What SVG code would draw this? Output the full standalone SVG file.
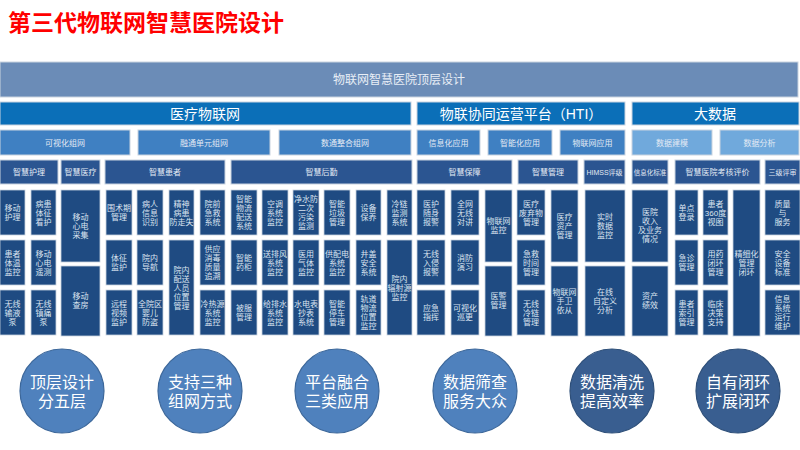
<svg xmlns="http://www.w3.org/2000/svg" width="800" height="450" viewBox="0 0 800 450">
<style>
text{font-family:"Liberation Sans","Noto Sans CJK SC",sans-serif;text-anchor:middle}
.title{font-size:23px;font-weight:bold;fill:#ff0000;text-anchor:start}
.top{fill:#6b8cb7;stroke:#c9d3df;stroke-width:1}
.l2{fill:#0b6fb8;stroke:#c9d3df;stroke-width:1}
.l3{fill:#3f80c2;stroke:#c9d3df;stroke-width:1}
.l3b{fill:#70a9dc;stroke:#c9d3df;stroke-width:1}
.hd{fill:#2b5591;stroke:#c9d3df;stroke-width:1}
.c{fill:#1f4b82;stroke:#c9d3df;stroke-width:0.8}
.t12{font-size:12px;fill:#e8eef6}
.t14{font-size:14px;fill:#ffffff}
.t8{font-size:8px;fill:#e3eaf4}
.t7{font-size:7px;fill:#e3eaf4}
.t6{font-size:6.5px;fill:#e3eaf4}
.tc{font-size:8px;fill:#dbe4f0}
.cl{fill:#4f81bd;stroke:#3c679a;stroke-width:1.2}
.cd{fill:#395e90;stroke:#2e4f79;stroke-width:1.2}
.ct{font-size:16px;fill:#ffffff}
</style>
<rect width="800" height="450" fill="#ffffff"/>
<text class="title" x="8" y="31">第三代物联网智慧医院设计</text>

<g id="top"><rect class="top" x="0" y="62" width="798" height="35"/><text class="t12" x="399" y="84">物联网智慧医院顶层设计</text></g>

<g id="l2-iot"><rect class="l2" x="0" y="102" width="411" height="23"/><text class="t14" x="205" y="119">医疗物联网</text></g>
<g id="l2-hti"><rect class="l2" x="417" y="102" width="208" height="23"/><text class="t14" x="521" y="119">物联协同运营平台（HTI）</text></g>
<g id="l2-bigdata"><rect class="l2" x="632" y="102" width="167" height="23"/><text class="t14" x="715" y="119">大数据</text></g>

<g id="l3-1"><rect class="l3" x="0" y="130" width="130" height="25"/><text class="t8" x="65" y="145.5">可视化组网</text></g>
<g id="l3-2"><rect class="l3" x="138" y="130" width="132" height="25"/><text class="t8" x="204" y="145.5">融通单元组网</text></g>
<g id="l3-3"><rect class="l3" x="279" y="130" width="132" height="25"/><text class="t8" x="345" y="145.5">数通整合组网</text></g>
<g id="l3-4"><rect class="l3" x="417" y="130" width="63" height="25"/><text class="t8" x="448.5" y="145.5">信息化应用</text></g>
<g id="l3-5"><rect class="l3" x="488" y="130" width="64" height="25"/><text class="t8" x="520" y="145.5">智能化应用</text></g>
<g id="l3-6"><rect class="l3" x="560" y="130" width="65" height="25"/><text class="t8" x="592.5" y="145.5">物联网应用</text></g>
<g id="l3-7"><rect class="l3b" x="632" y="130" width="80" height="25"/><text class="t8" x="672" y="145.5">数据建模</text></g>
<g id="l3-8"><rect class="l3b" x="720" y="130" width="79" height="25"/><text class="t8" x="759.5" y="145.5">数据分析</text></g>

<g id="h1"><rect class="hd" x="0" y="160" width="58" height="24"/><text class="t8" x="29" y="175">智慧护理</text></g>
<g id="h2"><rect class="hd" x="61" y="160" width="39" height="24"/><text class="t8" x="80.5" y="175">智慧医疗</text></g>
<g id="h3"><rect class="hd" x="105" y="160" width="120" height="24"/><text class="t8" x="165" y="175">智慧患者</text></g>
<g id="h4"><rect class="hd" x="231" y="160" width="181" height="24"/><text class="t8" x="321.5" y="175">智慧后勤</text></g>
<g id="h5"><rect class="hd" x="417" y="160" width="95" height="24"/><text class="t8" x="464.5" y="175">智慧保障</text></g>
<g id="h6"><rect class="hd" x="518" y="160" width="60" height="24"/><text class="t8" x="548" y="175">智慧管理</text></g>
<g id="h7"><rect class="hd" x="584" y="160" width="41" height="24"/><text class="t7" x="604.5" y="174.5">HIMSS评级</text></g>
<g id="h8"><rect class="hd" x="632" y="160" width="36" height="24"/><text class="t6" x="650" y="174.5">信息化标准</text></g>
<g id="h9"><rect class="hd" x="675" y="160" width="85" height="24"/><text class="t8" x="717.5" y="175">智慧医院考核评价</text></g>
<g id="h10"><rect class="hd" x="765" y="160" width="35" height="24"/><text class="t7" x="782.5" y="174.5">三级评审</text></g>

<!-- 智慧护理 -->
<g id="n1"><rect class="c" x="0" y="190" width="25" height="45"/><text class="tc" x="12.5" y="211"><tspan x="12.5">移动</tspan><tspan x="12.5" dy="9">护理</tspan></text></g>
<g id="n2"><rect class="c" x="0" y="240" width="25" height="45"/><text class="tc" x="12.5" y="256.5"><tspan x="12.5">患者</tspan><tspan x="12.5" dy="9">体温</tspan><tspan x="12.5" dy="9">监控</tspan></text></g>
<g id="n3"><rect class="c" x="0" y="290" width="25" height="45"/><text class="tc" x="12.5" y="306.5"><tspan x="12.5">无线</tspan><tspan x="12.5" dy="9">输液</tspan><tspan x="12.5" dy="9">泵</tspan></text></g>
<g id="n4"><rect class="c" x="31" y="190" width="25" height="45"/><text class="tc" x="43.5" y="206.5"><tspan x="43.5">病患</tspan><tspan x="43.5" dy="9">体征</tspan><tspan x="43.5" dy="9">看护</tspan></text></g>
<g id="n5"><rect class="c" x="31" y="240" width="25" height="45"/><text class="tc" x="43.5" y="256.5"><tspan x="43.5">移动</tspan><tspan x="43.5" dy="9">心电</tspan><tspan x="43.5" dy="9">遥测</tspan></text></g>
<g id="n6"><rect class="c" x="31" y="290" width="25" height="45"/><text class="tc" x="43.5" y="306.5"><tspan x="43.5">无线</tspan><tspan x="43.5" dy="9">镇痛</tspan><tspan x="43.5" dy="9">泵</tspan></text></g>
<!-- 智慧医疗 -->
<g id="n7"><rect class="c" x="61" y="190" width="39" height="72"/><text class="tc" x="80.5" y="220"><tspan x="80.5">移动</tspan><tspan x="80.5" dy="9">心电</tspan><tspan x="80.5" dy="9">采集</tspan></text></g>
<g id="n8"><rect class="c" x="61" y="266" width="39" height="70"/><text class="tc" x="80.5" y="299"><tspan x="80.5">移动</tspan><tspan x="80.5" dy="9">查房</tspan></text></g>
<!-- 智慧患者 -->
<g id="n9"><rect class="c" x="106" y="190" width="26" height="45"/><text class="tc" x="119" y="211"><tspan x="119">围术期</tspan><tspan x="119" dy="9">管理</tspan></text></g>
<g id="n10"><rect class="c" x="106" y="240" width="26" height="45"/><text class="tc" x="119" y="261"><tspan x="119">体征</tspan><tspan x="119" dy="9">监护</tspan></text></g>
<g id="n11"><rect class="c" x="106" y="290" width="26" height="45"/><text class="tc" x="119" y="306.5"><tspan x="119">远程</tspan><tspan x="119" dy="9">视频</tspan><tspan x="119" dy="9">监护</tspan></text></g>
<g id="n12"><rect class="c" x="137" y="190" width="26" height="45"/><text class="tc" x="150" y="206.5"><tspan x="150">病人</tspan><tspan x="150" dy="9">信息</tspan><tspan x="150" dy="9">识别</tspan></text></g>
<g id="n13"><rect class="c" x="137" y="240" width="26" height="45"/><text class="tc" x="150" y="261"><tspan x="150">院内</tspan><tspan x="150" dy="9">导航</tspan></text></g>
<g id="n14"><rect class="c" x="137" y="290" width="26" height="45"/><text class="tc" x="150" y="306.5"><tspan x="150">全院区</tspan><tspan x="150" dy="9">婴儿</tspan><tspan x="150" dy="9">防盗</tspan></text></g>
<g id="n15"><rect class="c" x="169" y="190" width="25" height="45"/><text class="tc" x="181.5" y="206.5"><tspan x="181.5">精神</tspan><tspan x="181.5" dy="9">病患</tspan><tspan x="181.5" dy="9">防走失</tspan></text></g>
<g id="n16"><rect class="c" x="169" y="240" width="25" height="95"/><text class="tc" x="181.5" y="273"><tspan x="181.5">院内</tspan><tspan x="181.5" dy="9">配送</tspan><tspan x="181.5" dy="9">人员</tspan><tspan x="181.5" dy="9">位置</tspan><tspan x="181.5" dy="9">管理</tspan></text></g>
<g id="n17"><rect class="c" x="200" y="190" width="25" height="45"/><text class="tc" x="212.5" y="206.5"><tspan x="212.5">院前</tspan><tspan x="212.5" dy="9">急救</tspan><tspan x="212.5" dy="9">系统</tspan></text></g>
<g id="n18"><rect class="c" x="200" y="240" width="25" height="45"/><text class="tc" x="212.5" y="252"><tspan x="212.5">供应</tspan><tspan x="212.5" dy="9">消毒</tspan><tspan x="212.5" dy="9">质量</tspan><tspan x="212.5" dy="9">追溯</tspan></text></g>
<g id="n19"><rect class="c" x="200" y="290" width="25" height="45"/><text class="tc" x="212.5" y="306.5"><tspan x="212.5">冷热源</tspan><tspan x="212.5" dy="9">系统</tspan><tspan x="212.5" dy="9">监控</tspan></text></g>
<!-- 智慧后勤 -->
<g id="n20"><rect class="c" x="231" y="190" width="26" height="45"/><text class="tc" x="244" y="202"><tspan x="244">智能</tspan><tspan x="244" dy="9">物流</tspan><tspan x="244" dy="9">配送</tspan><tspan x="244" dy="9">系统</tspan></text></g>
<g id="n21"><rect class="c" x="231" y="240" width="26" height="45"/><text class="tc" x="244" y="261"><tspan x="244">智能</tspan><tspan x="244" dy="9">药柜</tspan></text></g>
<g id="n22"><rect class="c" x="231" y="290" width="26" height="45"/><text class="tc" x="244" y="311"><tspan x="244">被服</tspan><tspan x="244" dy="9">管理</tspan></text></g>
<g id="n23"><rect class="c" x="262" y="190" width="26" height="45"/><text class="tc" x="275" y="206.5"><tspan x="275">空调</tspan><tspan x="275" dy="9">系统</tspan><tspan x="275" dy="9">监控</tspan></text></g>
<g id="n24"><rect class="c" x="262" y="240" width="26" height="45"/><text class="tc" x="275" y="256.5"><tspan x="275">送排风</tspan><tspan x="275" dy="9">系统</tspan><tspan x="275" dy="9">监控</tspan></text></g>
<g id="n25"><rect class="c" x="262" y="290" width="26" height="45"/><text class="tc" x="275" y="306.5"><tspan x="275">给排水</tspan><tspan x="275" dy="9">系统</tspan><tspan x="275" dy="9">监控</tspan></text></g>
<g id="n26"><rect class="c" x="293" y="190" width="26" height="45"/><text class="tc" x="306" y="202"><tspan x="306">净水防</tspan><tspan x="306" dy="9">二次</tspan><tspan x="306" dy="9">污染</tspan><tspan x="306" dy="9">监测</tspan></text></g>
<g id="n27"><rect class="c" x="293" y="240" width="26" height="45"/><text class="tc" x="306" y="256.5"><tspan x="306">医用</tspan><tspan x="306" dy="9">气体</tspan><tspan x="306" dy="9">监控</tspan></text></g>
<g id="n28"><rect class="c" x="293" y="290" width="26" height="45"/><text class="tc" x="306" y="306.5"><tspan x="306">水电表</tspan><tspan x="306" dy="9">抄表</tspan><tspan x="306" dy="9">系统</tspan></text></g>
<g id="n29"><rect class="c" x="324" y="190" width="26" height="45"/><text class="tc" x="337" y="206.5"><tspan x="337">智能</tspan><tspan x="337" dy="9">垃圾</tspan><tspan x="337" dy="9">管理</tspan></text></g>
<g id="n30"><rect class="c" x="324" y="240" width="26" height="45"/><text class="tc" x="337" y="256.5"><tspan x="337">供配电</tspan><tspan x="337" dy="9">系统</tspan><tspan x="337" dy="9">监控</tspan></text></g>
<g id="n31"><rect class="c" x="324" y="290" width="26" height="45"/><text class="tc" x="337" y="306.5"><tspan x="337">智能</tspan><tspan x="337" dy="9">停车</tspan><tspan x="337" dy="9">管理</tspan></text></g>
<g id="n32"><rect class="c" x="356" y="190" width="25" height="45"/><text class="tc" x="368.5" y="211"><tspan x="368.5">设备</tspan><tspan x="368.5" dy="9">保养</tspan></text></g>
<g id="n33"><rect class="c" x="356" y="240" width="25" height="45"/><text class="tc" x="368.5" y="256.5"><tspan x="368.5">井盖</tspan><tspan x="368.5" dy="9">安全</tspan><tspan x="368.5" dy="9">系统</tspan></text></g>
<g id="n34"><rect class="c" x="356" y="290" width="25" height="45"/><text class="tc" x="368.5" y="302"><tspan x="368.5">轨道</tspan><tspan x="368.5" dy="9">物流</tspan><tspan x="368.5" dy="9">位置</tspan><tspan x="368.5" dy="9">监控</tspan></text></g>
<g id="n35"><rect class="c" x="387" y="190" width="25" height="45"/><text class="tc" x="399.5" y="206.5"><tspan x="399.5">冷链</tspan><tspan x="399.5" dy="9">监测</tspan><tspan x="399.5" dy="9">系统</tspan></text></g>
<g id="n36"><rect class="c" x="387" y="240" width="25" height="95"/><text class="tc" x="399.5" y="282"><tspan x="399.5">院内</tspan><tspan x="399.5" dy="9">辐射源</tspan><tspan x="399.5" dy="9">监控</tspan></text></g>
<!-- 智慧保障 -->
<g id="n37"><rect class="c" x="417" y="190" width="28" height="45"/><text class="tc" x="431" y="206.5"><tspan x="431">医护</tspan><tspan x="431" dy="9">随身</tspan><tspan x="431" dy="9">报警</tspan></text></g>
<g id="n38"><rect class="c" x="417" y="240" width="28" height="45"/><text class="tc" x="431" y="256.5"><tspan x="431">无线</tspan><tspan x="431" dy="9">入侵</tspan><tspan x="431" dy="9">报警</tspan></text></g>
<g id="n39"><rect class="c" x="417" y="290" width="28" height="45"/><text class="tc" x="431" y="311"><tspan x="431">应急</tspan><tspan x="431" dy="9">指挥</tspan></text></g>
<g id="n40"><rect class="c" x="451" y="190" width="28" height="45"/><text class="tc" x="465" y="206.5"><tspan x="465">全网</tspan><tspan x="465" dy="9">无线</tspan><tspan x="465" dy="9">对讲</tspan></text></g>
<g id="n41"><rect class="c" x="451" y="240" width="28" height="45"/><text class="tc" x="465" y="261"><tspan x="465">消防</tspan><tspan x="465" dy="9">演习</tspan></text></g>
<g id="n42"><rect class="c" x="451" y="290" width="28" height="45"/><text class="tc" x="465" y="311"><tspan x="465">可视化</tspan><tspan x="465" dy="9">巡更</tspan></text></g>
<g id="n43"><rect class="c" x="485" y="190" width="27" height="72"/><text class="tc" x="498.5" y="224"><tspan x="498.5">物联网</tspan><tspan x="498.5" dy="9">监控</tspan></text></g>
<g id="n44"><rect class="c" x="485" y="266" width="27" height="70"/><text class="tc" x="498.5" y="299"><tspan x="498.5">医警</tspan><tspan x="498.5" dy="9">管理</tspan></text></g>
<!-- 智慧管理 -->
<g id="n45"><rect class="c" x="517" y="190" width="28" height="45"/><text class="tc" x="531" y="206.5"><tspan x="531">医疗</tspan><tspan x="531" dy="9">废弃物</tspan><tspan x="531" dy="9">管理</tspan></text></g>
<g id="n46"><rect class="c" x="517" y="240" width="28" height="45"/><text class="tc" x="531" y="256.5"><tspan x="531">急救</tspan><tspan x="531" dy="9">时间</tspan><tspan x="531" dy="9">管理</tspan></text></g>
<g id="n47"><rect class="c" x="517" y="290" width="28" height="45"/><text class="tc" x="531" y="306.5"><tspan x="531">无线</tspan><tspan x="531" dy="9">冷链</tspan><tspan x="531" dy="9">管理</tspan></text></g>
<g id="n48"><rect class="c" x="551" y="190" width="27" height="72"/><text class="tc" x="564.5" y="219.5"><tspan x="564.5">医疗</tspan><tspan x="564.5" dy="9">资产</tspan><tspan x="564.5" dy="9">管理</tspan></text></g>
<g id="n49"><rect class="c" x="551" y="266" width="27" height="70"/><text class="tc" x="564.5" y="294.5"><tspan x="564.5">物联网</tspan><tspan x="564.5" dy="9">手卫</tspan><tspan x="564.5" dy="9">依从</tspan></text></g>
<!-- HIMSS -->
<g id="n50"><rect class="c" x="585" y="190" width="40" height="72"/><text class="tc" x="605" y="219.5"><tspan x="605">实时</tspan><tspan x="605" dy="9">数据</tspan><tspan x="605" dy="9">监控</tspan></text></g>
<g id="n51"><rect class="c" x="585" y="266" width="40" height="70"/><text class="tc" x="605" y="294.5"><tspan x="605">在线</tspan><tspan x="605" dy="9">自定义</tspan><tspan x="605" dy="9">分析</tspan></text></g>
<!-- 信息化标准 -->
<g id="n52"><rect class="c" x="632" y="190" width="36" height="72"/><text class="tc" x="650" y="215"><tspan x="650">医院</tspan><tspan x="650" dy="9">收入</tspan><tspan x="650" dy="9">及业务</tspan><tspan x="650" dy="9">情况</tspan></text></g>
<g id="n53"><rect class="c" x="632" y="266" width="36" height="70"/><text class="tc" x="650" y="299"><tspan x="650">资产</tspan><tspan x="650" dy="9">绩效</tspan></text></g>
<!-- 考核评价 -->
<g id="n54"><rect class="c" x="675" y="190" width="23" height="45"/><text class="tc" x="686.5" y="211"><tspan x="686.5">单点</tspan><tspan x="686.5" dy="9">登录</tspan></text></g>
<g id="n55"><rect class="c" x="675" y="240" width="23" height="45"/><text class="tc" x="686.5" y="261"><tspan x="686.5">急诊</tspan><tspan x="686.5" dy="9">管理</tspan></text></g>
<g id="n56"><rect class="c" x="675" y="290" width="23" height="45"/><text class="tc" x="686.5" y="306.5"><tspan x="686.5">患者</tspan><tspan x="686.5" dy="9">索引</tspan><tspan x="686.5" dy="9">管理</tspan></text></g>
<g id="n57"><rect class="c" x="703" y="190" width="25" height="45"/><text class="tc" x="715.5" y="206.5"><tspan x="715.5">患者</tspan><tspan x="715.5" dy="9">360度</tspan><tspan x="715.5" dy="9">视图</tspan></text></g>
<g id="n58"><rect class="c" x="703" y="240" width="25" height="45"/><text class="tc" x="715.5" y="256.5"><tspan x="715.5">用药</tspan><tspan x="715.5" dy="9">闭环</tspan><tspan x="715.5" dy="9">管理</tspan></text></g>
<g id="n59"><rect class="c" x="703" y="290" width="25" height="45"/><text class="tc" x="715.5" y="306.5"><tspan x="715.5">临床</tspan><tspan x="715.5" dy="9">决策</tspan><tspan x="715.5" dy="9">支持</tspan></text></g>
<g id="n60"><rect class="c" x="733" y="190" width="27" height="146"/><text class="tc" x="746.5" y="257"><tspan x="746.5">精细化</tspan><tspan x="746.5" dy="9">管理</tspan><tspan x="746.5" dy="9">闭环</tspan></text></g>
<!-- 三级评审 -->
<g id="n61"><rect class="c" x="765" y="190" width="35" height="45"/><text class="tc" x="782.5" y="206.5"><tspan x="782.5">质量</tspan><tspan x="782.5" dy="9">与</tspan><tspan x="782.5" dy="9">服务</tspan></text></g>
<g id="n62"><rect class="c" x="765" y="240" width="35" height="45"/><text class="tc" x="782.5" y="256.5"><tspan x="782.5">安全</tspan><tspan x="782.5" dy="9">设备</tspan><tspan x="782.5" dy="9">标准</tspan></text></g>
<g id="n63"><rect class="c" x="765" y="290" width="35" height="45"/><text class="tc" x="782.5" y="302"><tspan x="782.5">信息</tspan><tspan x="782.5" dy="9">系统</tspan><tspan x="782.5" dy="9">运行</tspan><tspan x="782.5" dy="9">维护</tspan></text></g>

<g id="connectors"></g>

<g id="c1"><circle class="cl" cx="62" cy="391" r="42"/><text class="ct" x="62" y="388"><tspan x="62">顶层设计</tspan><tspan x="62" dy="19">分五层</tspan></text></g>
<g id="c2"><circle class="cl" cx="200" cy="391" r="42"/><text class="ct" x="200" y="388"><tspan x="200">支持三种</tspan><tspan x="200" dy="19">组网方式</tspan></text></g>
<g id="c3"><circle class="cl" cx="337" cy="391" r="42"/><text class="ct" x="337" y="388"><tspan x="337">平台融合</tspan><tspan x="337" dy="19">三类应用</tspan></text></g>
<g id="c4"><circle class="cl" cx="475" cy="391" r="42"/><text class="ct" x="475" y="388"><tspan x="475">数据筛查</tspan><tspan x="475" dy="19">服务大众</tspan></text></g>
<g id="c5"><circle class="cd" cx="612" cy="391" r="42"/><text class="ct" x="612" y="388"><tspan x="612">数据清洗</tspan><tspan x="612" dy="19">提高效率</tspan></text></g>
<g id="c6"><circle class="cd" cx="738" cy="391" r="42"/><text class="ct" x="738" y="388"><tspan x="738">自有闭环</tspan><tspan x="738" dy="19">扩展闭环</tspan></text></g>
</svg>
